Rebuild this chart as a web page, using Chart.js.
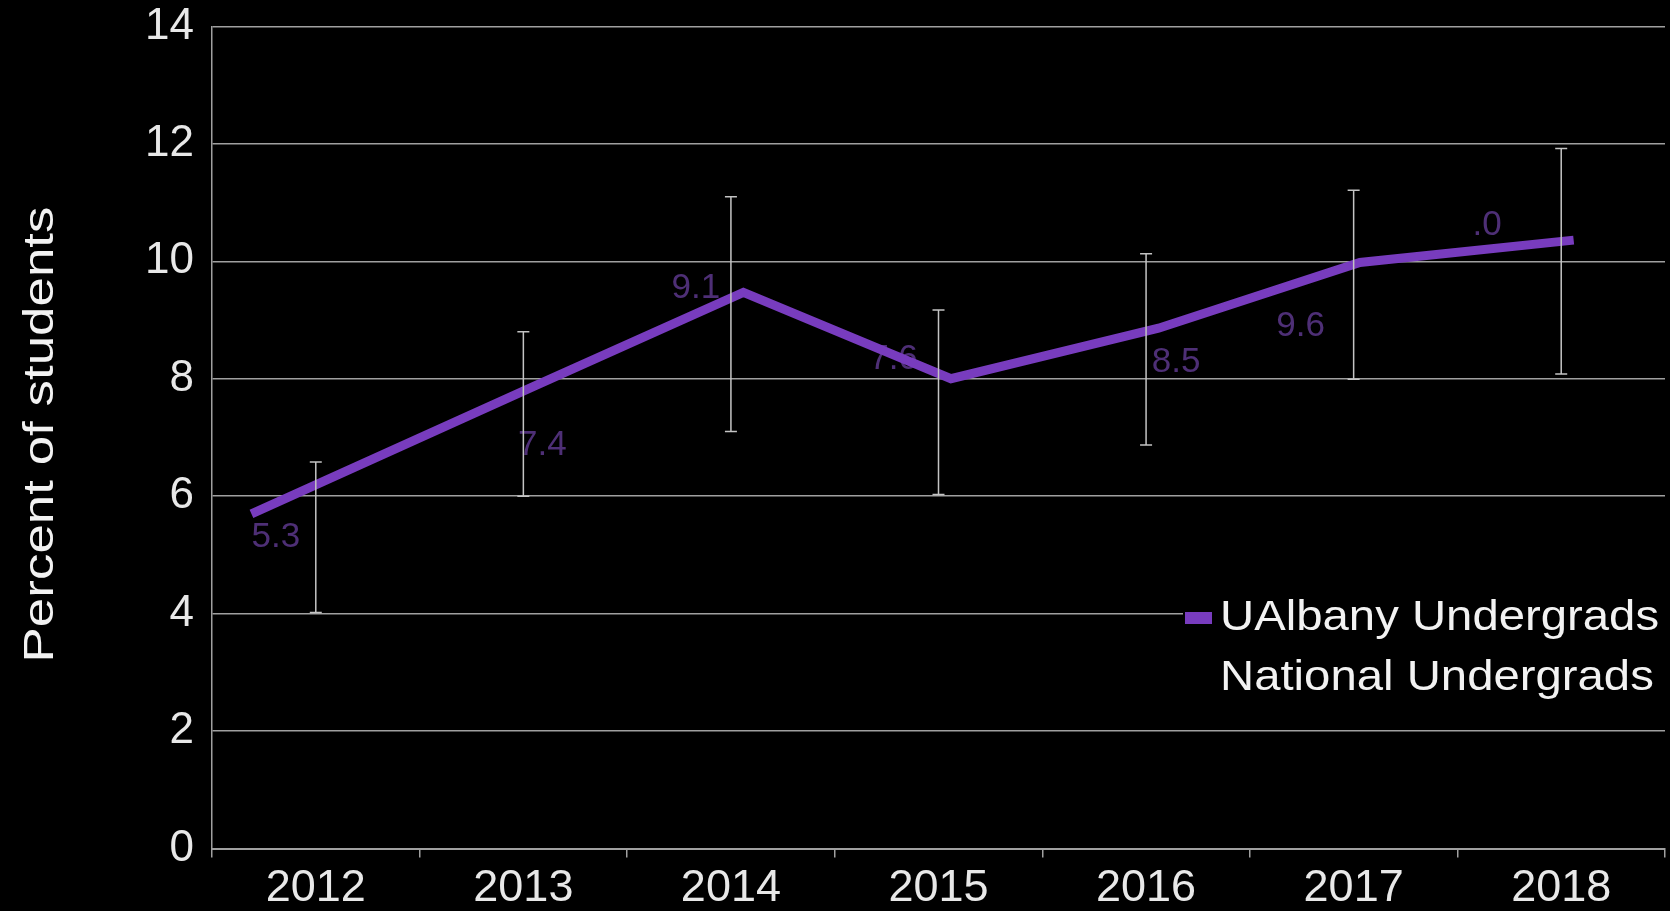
<!DOCTYPE html>
<html>
<head>
<meta charset="utf-8">
<script src="https://cdn.jsdelivr.net/npm/chart.js@4.4.1/dist/chart.umd.min.js"></script>
<style>
  html, body { margin: 0; padding: 0; background: #000; }
  #wrap { width: 1670px; height: 911px; }
</style>
</head>
<body>
<div id="wrap"><canvas id="trendChart"></canvas></div>
<script>
// data
const years = ['2012', '2013', '2014', '2015', '2016', '2017', '2018'];
const nationalValues = [5.3, 7.4, 9.1, 7.6, 8.5, 9.6, 10.0];
const nationalError = [1.28, 1.4, 2.0, 1.57, 1.63, 1.61, 1.92];
const valueLabels = ['5.3', '7.4', '9.1', '7.6', '8.5', '9.6', '.0'];
// UAlbany line vertices sit a little off the year centres (position in category units)
const ualbanyPos = [-0.31, 1.05, 2.06, 3.06, 4.06, 5.03, 6.06];
const ualbanyValues = [5.70, 7.87, 9.47, 8.00, 8.86, 9.98, 10.36];
const seriesNames = ['UAlbany Undergrads', 'National Undergrads'];
const axisTitle = 'Percent of students';

// label nudges in px (style only)
const labelShift = [[-40, 0], [19, 31], [-35, -26], [-45, -43], [30, 13], [-53, 42], [-74, -36]];

const FONT = '"Liberation Sans", Arial, sans-serif';
const PURPLE = '#783cbe';
const GRID = '#a0a0a0';
const TEXT = '#e8e8e8';

const errorBars = {
  id: 'errorBars',
  afterDatasetsDraw(chart) {
    const { ctx, scales: { x, y } } = chart;
    ctx.save();
    ctx.strokeStyle = '#c4c4c4';
    ctx.lineWidth = 1.5;
    nationalValues.forEach((v, i) => {
      const px = x.getPixelForValue(i);
      const top = y.getPixelForValue(v + nationalError[i]);
      const bot = y.getPixelForValue(v - nationalError[i]);
      ctx.beginPath();
      ctx.moveTo(px, top); ctx.lineTo(px, bot);
      ctx.moveTo(px - 6, top); ctx.lineTo(px + 6, top);
      ctx.moveTo(px - 6, bot); ctx.lineTo(px + 6, bot);
      ctx.stroke();
    });
    ctx.restore();
  }
};

const valueText = {
  id: 'valueText',
  beforeDatasetsDraw(chart) {
    const { ctx, scales: { x, y } } = chart;
    ctx.save();
    ctx.font = '35px ' + FONT;
    ctx.fillStyle = '#4e2f76';
    ctx.textAlign = 'center';
    ctx.textBaseline = 'middle';
    nationalValues.forEach((v, i) => {
      ctx.fillText(valueLabels[i], x.getPixelForValue(i) + labelShift[i][0], y.getPixelForValue(v) + labelShift[i][1]);
    });
    ctx.restore();
  }
};

const sideLegend = {
  id: 'sideLegend',
  afterDraw(chart) {
    const ctx = chart.ctx;
    const area = chart.chartArea;
    const left = area.right - 482;
    ctx.save();
    ctx.fillStyle = '#000';
    ctx.fillRect(left, 588, 482, 110);
    ctx.fillStyle = chart.data.datasets[0].borderColor;
    ctx.fillRect(left + 2, 612, 27, 12);
    ctx.fillStyle = '#f2f2f2';
    ctx.font = '43px ' + FONT;
    ctx.textBaseline = 'alphabetic';
    [630, 690].forEach((base, i) => {
      ctx.save();
      ctx.translate(left + 37, base);
      ctx.scale(1.1, 1);
      ctx.fillText(seriesNames[i], 0, 0);
      ctx.restore();
    });
    ctx.restore();
  }
};

const sideTitle = {
  id: 'sideTitle',
  afterDraw(chart) {
    const { ctx, chartArea } = chart;
    ctx.save();
    ctx.translate(53, (chartArea.top + chartArea.bottom) / 2 - 3);
    ctx.rotate(-Math.PI / 2);
    ctx.scale(1.26, 1);
    ctx.font = '42px ' + FONT;
    ctx.fillStyle = '#f2f2f2';
    ctx.textAlign = 'center';
    ctx.textBaseline = 'alphabetic';
    ctx.fillText(axisTitle, 0, 0);
    ctx.restore();
  }
};

new Chart(document.getElementById('trendChart'), {
  type: 'line',
  data: {
    labels: years,
    datasets: [
      {
        label: seriesNames[0],
        data: ualbanyPos.map((p, i) => ({ x: p, y: ualbanyValues[i] })),
        xAxisID: 'xl',
        borderColor: PURPLE,
        borderWidth: 9,
        pointRadius: 0,
        borderCapStyle: 'butt',
        borderJoinStyle: 'miter',
        tension: 0
      },
      {
        label: seriesNames[1],
        data: nationalValues,
        xAxisID: 'x',
        showLine: false,
        pointRadius: 0,
        borderColor: '#000'
      }
    ]
  },
  options: {
    responsive: true,
    maintainAspectRatio: false,
    animation: false,
    layout: { padding: { left: 0, right: 5, top: 0, bottom: 0 } },
    plugins: { legend: { display: false }, tooltip: { enabled: false } },
    scales: {
      x: {
        type: 'category',
        offset: true,
        grid: { offset: true, drawOnChartArea: false, tickLength: 9, color: GRID, lineWidth: 1.5 },
        border: { color: GRID, width: 2 },
        ticks: { color: TEXT, font: { family: FONT, size: 45 }, padding: 4, maxRotation: 0, autoSkip: false },
        afterFit: (s) => { s.height = 62.5; }
      },
      xl: { type: 'linear', display: false, min: -0.5, max: 6.5 },
      y: {
        min: 0,
        max: 14,
        ticks: { stepSize: 2, color: TEXT, font: { family: FONT, size: 44 }, padding: 0 },
        grid: { color: GRID, lineWidth: 1.5, drawTicks: true, tickLength: 18, tickColor: 'rgba(0,0,0,0)' },
        border: { color: GRID, width: 1.5 },
        afterFit: (s) => { s.width = 212; }
      }
    }
  },
  plugins: [valueText, errorBars, sideLegend, sideTitle]
});
</script>
</body>
</html>
